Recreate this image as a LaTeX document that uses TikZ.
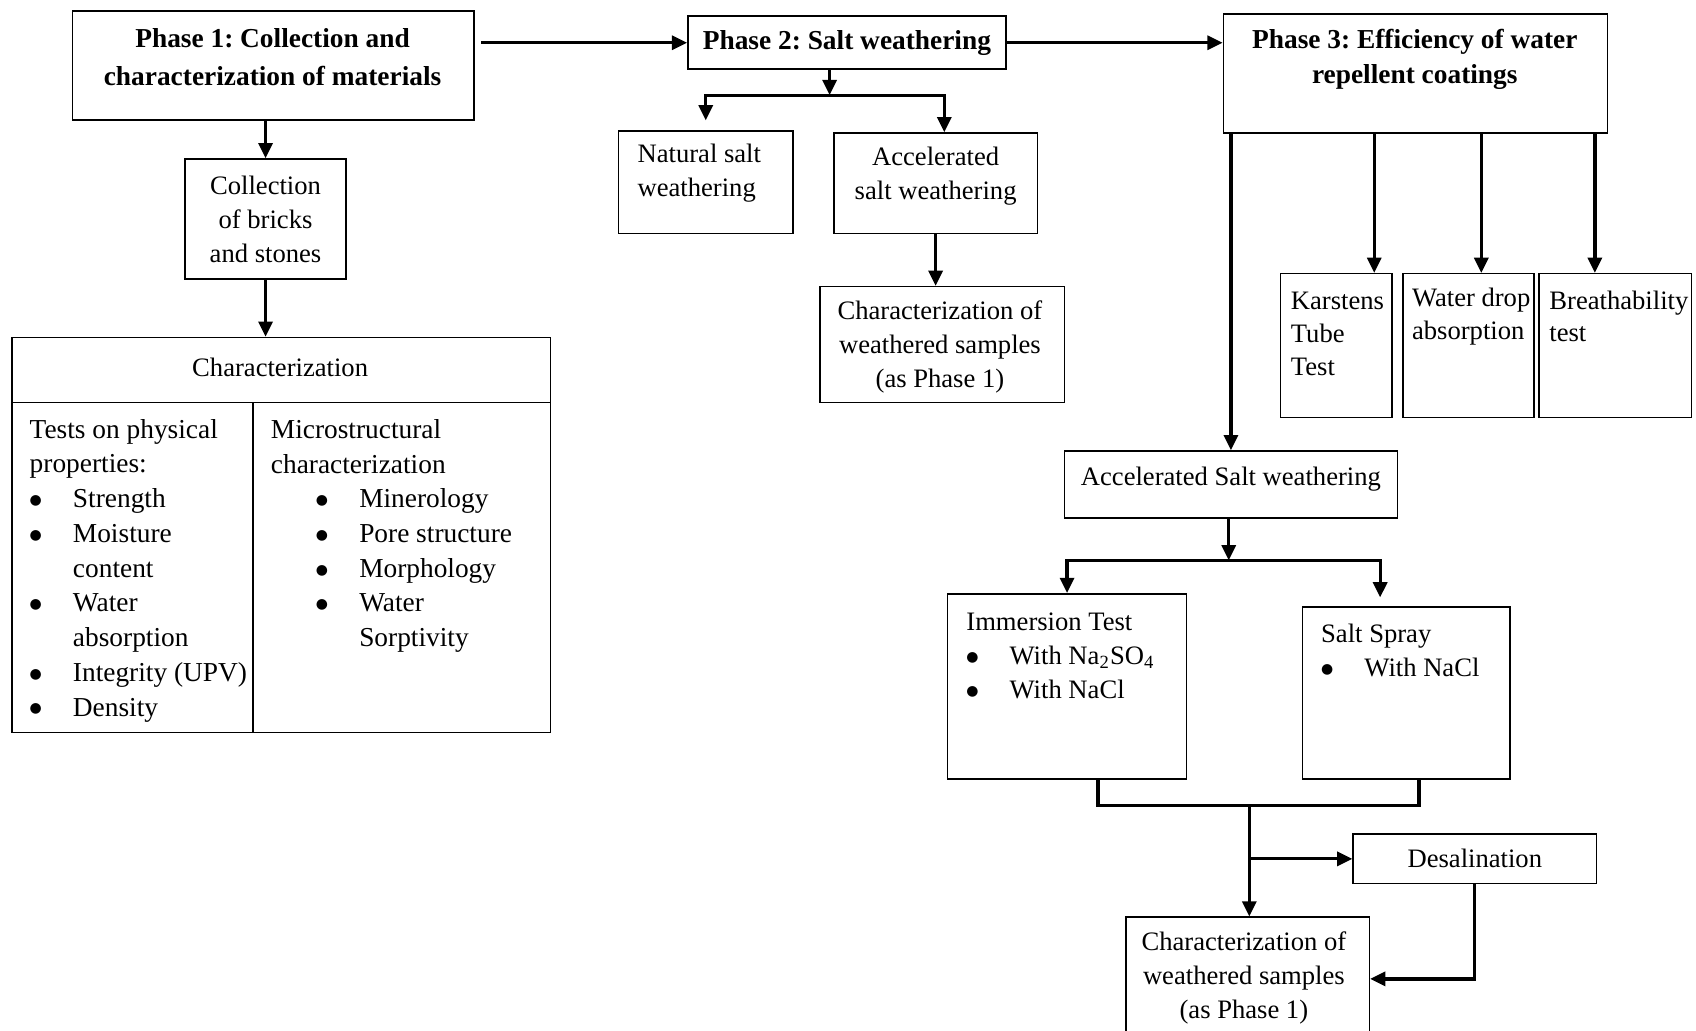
\documentclass[tikz,border=0pt]{standalone}
\usepackage{fontspec}
\setmainfont{Liberation Serif}
\newfontfamily\dotfont{DejaVu Sans}
\usetikzlibrary{arrows.meta,positioning,fit,calc}
\frenchspacing
\newcommand{\itm}[1][0pt]{\hspace*{#1}\makebox[0.6cm][l]{\raisebox{1.2pt}{\dotfont\fontsize{5.5}{6}\selectfont ●}}}
\newcommand{\cont}[1][0pt]{\hspace*{#1}\hspace*{0.6cm}}
\tikzset{
  box/.style={
    draw,
    line width=0.6pt,
    inner sep=0pt
  },
  txt/.style={inner sep=0pt, font=\fontsize{10.5}{13.4}\selectfont},
  ctxt/.style={txt, align=center},
  ltxt/.style={txt, align=left, anchor=west},
  htxt/.style={ctxt, font=\fontsize{10.8}{13.6}\selectfont\bfseries},
  flow/.style={-{Triangle[length=6pt,width=5.5pt]}, line width=1.3pt},
  link/.style={line width=1.3pt}
}

\begin{document}
\begin{tikzpicture}[x=0.015cm, y=-0.015cm]
\useasboundingbox (0,0) rectangle (1568,953);

\node[box, fit={(67,10) (438,111)}] (ph1) {};
\node[htxt, font=\fontsize{10.8}{15}\selectfont\bfseries] (ph1txt) at (252,53) {Phase 1: Collection and\\characterization of materials};
\node[box, fit={(636,15) (930,64)}] (ph2) {};
\node[htxt] (ph2txt) at (ph2) {Phase 2: Salt weathering};
\node[box, fit={(1131,13) (1486,123)}] (ph3) {};
\node[htxt] (ph3txt) at (1308,55) {Phase 3: Efficiency of water\\repellent coatings};

\node[box, fit={(171,147) (320,258)}] (collect) {};
\node[ctxt] (collecttxt) at (collect) {Collection\\of bricks\\and stones};
\node[box, fit={(11,312) (509,372)}] (charhead) {};
\node[ctxt] (charheadtxt) at (259,340) {Characterization};
\node[box, fit={(11,372) (234,677)}] (physical) {};
\node[box, fit={(234,372) (509,677)}] (micro) {};
\node[ltxt, font=\fontsize{10.8}{13.7}\selectfont] (physicaltxt) at (27,527.5) {Tests on physical\\properties:\\\itm Strength\\\itm Moisture\\\cont content\\\itm Water\\\cont absorption\\\itm Integrity (UPV)\\\itm Density};
\node[ltxt, font=\fontsize{10.8}{13.7}\selectfont] (microtxt) at (250,495.5) {Microstructural\\characterization\\\itm[0.625cm]Minerology\\\itm[0.625cm]Pore structure\\\itm[0.625cm]Morphology\\\itm[0.625cm]Water\\\cont[0.625cm]Sorptivity};

\node[box, fit={(572,121) (733,216)}] (natural) {};
\node[ltxt] (naturaltxt) at (589,160.5) {Natural salt\\weathering};
\node[box, fit={(771,123) (959,216)}] (accel) {};
\node[ctxt] (acceltxt) at (865,162.5) {Accelerated\\salt weathering};
\node[box, fit={(758,265) (984,372)}] (wchar) {};
\node[ctxt] (wchartxt) at (869,321) {Characterization of\\weathered samples\\(as Phase 1)};

\node[box, fit={(1184,253) (1287,386)}] (karst) {};
\node[ltxt, font=\fontsize{10.5}{13}\selectfont] (karsttxt) at (1193,309) {Karstens\\Tube\\Test};
\node[box, fit={(1297,253) (1418,386)}] (wdrop) {};
\node[ltxt, font=\fontsize{10.5}{13}\selectfont] (wdroptxt) at (1305,292.5) {Water drop\\absorption};
\node[box, fit={(1423,253) (1564,386)}] (breath) {};
\node[ltxt, font=\fontsize{10.5}{13}\selectfont] (breathtxt) at (1432,292.5) {Breathability\\test};

\node[box, fit={(984,417) (1292,479)}] (aslt) {};
\node[ctxt] (aslttxt) at (1138,443) {Accelerated Salt weathering};
\node[box, fit={(876,549) (1097,720)}] (immers) {};
\node[ltxt] (immerstxt) at (893,606) {Immersion Test\\\itm With Na\textsubscript{2}SO\textsubscript{4}\\\itm With NaCl};
\node[box, fit={(1204,561) (1396,720)}] (spray) {};
\node[ltxt] (spraytxt) at (1221,601.5) {Salt Spray\\\itm With NaCl};
\node[box, fit={(1251,771) (1476,817)}] (desal) {};
\node[ctxt] (desaltxt) at (desal) {Desalination};
\node[box, fit={(1041,848) (1266,962)}] (final) {};
\node[ctxt] (finaltxt) at (1150,904) {Characterization of\\weathered samples\\(as Phase 1)};

\draw[flow] ($(ph1.east |- ph2.west)+(6,0)$) -- (ph2.west);
\draw[flow] (ph2.east) -- (ph2.east -| ph3.west);
\draw[flow] (ph1.south -| collect.north) -- (collect.north);
\draw[flow] (collect.south) -- (collect.south |- charhead.north);

\coordinate (split2) at (767,88);
\coordinate (natin) at ($(natural.north)+(0,-9)$);
\coordinate (accin) at ($(accel.north)+(8,0)$);
\draw[flow] (split2 |- ph2.south) -- (split2);
\draw[flow] (split2) -| (natin);
\draw[flow] (split2) -| (accin);
\draw[flow] (accel.south) -- (accel.south |- wchar.north);

\coordinate (karstin) at ($(karst.north)+(35,0)$);
\coordinate (wdropin) at ($(wdrop.north)+(12,0)$);
\coordinate (breathin) at ($(breath.north)+(-19,0)$);
\foreach \t in {karstin,wdropin,breathin}
  \draw[flow] (\t |- ph3.south) -- (\t);
\draw[flow] (aslt.north |- ph3.south) -- (aslt.north);

\coordinate (split3) at (1136,518);
\coordinate (sprayin) at ($(spray.north)+(-24,-8)$);
\draw[flow] (aslt.south -| split3) -- (split3);
\draw[flow] (split3) -| (immers.north);
\draw[flow] (split3) -| (sprayin);

\coordinate (merge) at (1155,744);
\draw[link] ($(immers.south)+(28.5,0)$) |- ($(spray.south)+(12,24)$) -- ($(spray.south)+(12,0)$);
\draw[flow] (merge) -- (merge |- final.north);
\draw[flow] (merge |- desal.west) -- (desal.west);
\draw[flow] (desal.south) |- (final.east);
\end{tikzpicture}
\end{document}
